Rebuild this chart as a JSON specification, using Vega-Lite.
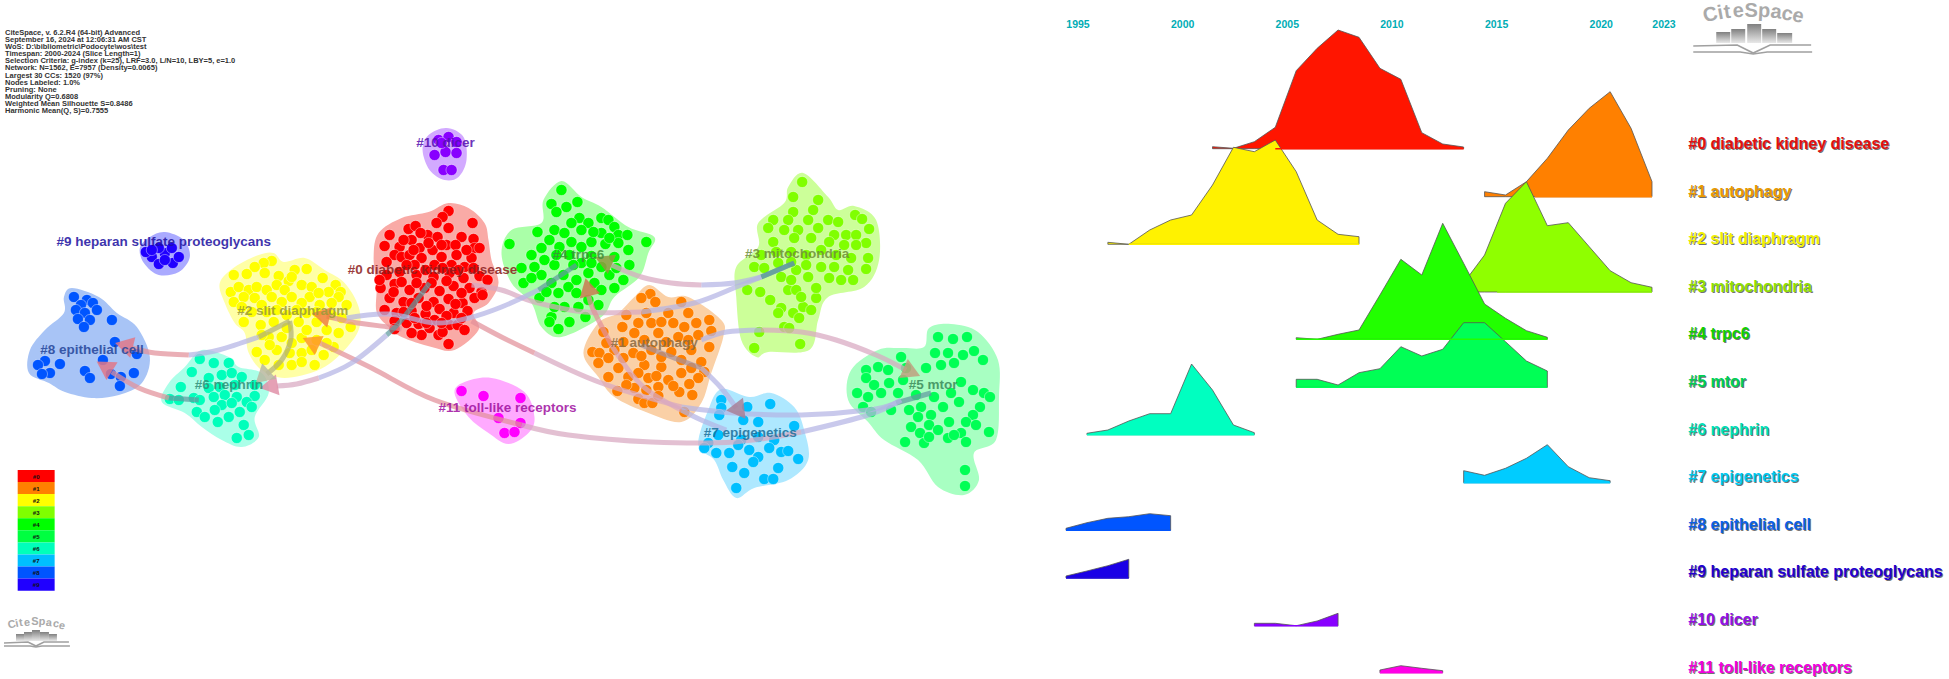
{
"$schema":"https://vega.github.io/schema/vega-lite/v6.json",
"width":1949,"height":679,"padding":0,"autosize":{"type":"fit","contains":"padding"},
"background":"white","view":{"stroke":null},
"config":{"font":"Liberation Sans","axis":{"grid":false}},
"resolve":{"scale":{"x":"independent","color":"independent","fill":"independent","stroke":"independent","opacity":"independent"}},
"datasets":{
"hull":[
{"c":"0","x":447,"y":203},{"c":"0","x":467,"y":208},{"c":"0","x":483,"y":223},{"c":"0","x":487,"y":240},{"c":"0","x":490,"y":260},{"c":"0","x":497,"y":283},{"c":"0","x":487,"y":303},{"c":"0","x":472,"y":313},{"c":"0","x":477,"y":330},{"c":"0","x":453,"y":350},{"c":"0","x":430,"y":347},{"c":"0","x":400,"y":337},{"c":"0","x":387,"y":327},{"c":"0","x":375,"y":312},{"c":"0","x":375,"y":287},{"c":"0","x":372,"y":257},{"c":"0","x":377,"y":233},{"c":"0","x":400,"y":218},{"c":"0","x":427,"y":212},
{"c":"1","x":648,"y":285},{"c":"1","x":667,"y":297},{"c":"1","x":687,"y":297},{"c":"1","x":720,"y":320},{"c":"1","x":722,"y":337},{"c":"1","x":710,"y":373},{"c":"1","x":700,"y":403},{"c":"1","x":680,"y":422},{"c":"1","x":647,"y":413},{"c":"1","x":613,"y":397},{"c":"1","x":597,"y":377},{"c":"1","x":582,"y":353},{"c":"1","x":597,"y":323},{"c":"1","x":617,"y":313},{"c":"1","x":633,"y":297},
{"c":"2","x":272,"y":253},{"c":"2","x":282,"y":262},{"c":"2","x":303,"y":258},{"c":"2","x":323,"y":270},{"c":"2","x":343,"y":283},{"c":"2","x":357,"y":307},{"c":"2","x":357,"y":330},{"c":"2","x":340,"y":353},{"c":"2","x":317,"y":370},{"c":"2","x":283,"y":378},{"c":"2","x":260,"y":370},{"c":"2","x":247,"y":353},{"c":"2","x":243,"y":333},{"c":"2","x":233,"y":323},{"c":"2","x":223,"y":303},{"c":"2","x":218,"y":283},{"c":"2","x":233,"y":267},{"c":"2","x":257,"y":255},
{"c":"3","x":802,"y":173},{"c":"3","x":827,"y":197},{"c":"3","x":837,"y":210},{"c":"3","x":853,"y":206},{"c":"3","x":875,"y":220},{"c":"3","x":878,"y":260},{"c":"3","x":863,"y":287},{"c":"3","x":827,"y":297},{"c":"3","x":817,"y":320},{"c":"3","x":808,"y":350},{"c":"3","x":767,"y":352},{"c":"3","x":755,"y":357},{"c":"3","x":740,"y":340},{"c":"3","x":735,"y":297},{"c":"3","x":735,"y":267},{"c":"3","x":757,"y":247},{"c":"3","x":757,"y":223},{"c":"3","x":783,"y":203},{"c":"3","x":787,"y":187},
{"c":"4","x":560,"y":181},{"c":"4","x":580,"y":197},{"c":"4","x":600,"y":207},{"c":"4","x":627,"y":227},{"c":"4","x":653,"y":237},{"c":"4","x":647,"y":253},{"c":"4","x":638,"y":277},{"c":"4","x":613,"y":297},{"c":"4","x":600,"y":317},{"c":"4","x":560,"y":337},{"c":"4","x":540,"y":327},{"c":"4","x":530,"y":303},{"c":"4","x":510,"y":283},{"c":"4","x":500,"y":253},{"c":"4","x":510,"y":230},{"c":"4","x":540,"y":223},{"c":"4","x":542,"y":200},
{"c":"5","x":950,"y":324},{"c":"5","x":977,"y":332},{"c":"5","x":997,"y":360},{"c":"5","x":998,"y":397},{"c":"5","x":995,"y":440},{"c":"5","x":973,"y":453},{"c":"5","x":978,"y":480},{"c":"5","x":963,"y":495},{"c":"5","x":937,"y":487},{"c":"5","x":917,"y":460},{"c":"5","x":883,"y":440},{"c":"5","x":867,"y":422},{"c":"5","x":847,"y":400},{"c":"5","x":850,"y":370},{"c":"5","x":877,"y":350},{"c":"5","x":900,"y":348},{"c":"5","x":923,"y":347},{"c":"5","x":928,"y":328},
{"c":"6","x":200,"y":350},{"c":"6","x":227,"y":357},{"c":"6","x":237,"y":367},{"c":"6","x":260,"y":373},{"c":"6","x":267,"y":393},{"c":"6","x":253,"y":417},{"c":"6","x":257,"y":437},{"c":"6","x":240,"y":447},{"c":"6","x":220,"y":440},{"c":"6","x":200,"y":427},{"c":"6","x":183,"y":413},{"c":"6","x":160,"y":402},{"c":"6","x":167,"y":383},{"c":"6","x":183,"y":367},
{"c":"7","x":720,"y":389},{"c":"7","x":748,"y":397},{"c":"7","x":770,"y":393},{"c":"7","x":793,"y":407},{"c":"7","x":803,"y":430},{"c":"7","x":807,"y":460},{"c":"7","x":787,"y":480},{"c":"7","x":753,"y":488},{"c":"7","x":735,"y":498},{"c":"7","x":722,"y":480},{"c":"7","x":713,"y":460},{"c":"7","x":697,"y":445},{"c":"7","x":707,"y":410},
{"c":"8","x":70,"y":288},{"c":"8","x":97,"y":297},{"c":"8","x":115,"y":313},{"c":"8","x":135,"y":327},{"c":"8","x":148,"y":357},{"c":"8","x":140,"y":383},{"c":"8","x":117,"y":395},{"c":"8","x":90,"y":398},{"c":"8","x":63,"y":392},{"c":"8","x":47,"y":383},{"c":"8","x":27,"y":373},{"c":"8","x":28,"y":350},{"c":"8","x":43,"y":330},{"c":"8","x":62,"y":313},{"c":"8","x":62,"y":297},
{"c":"9","x":163,"y":232},{"c":"9","x":182,"y":240},{"c":"9","x":188,"y":257},{"c":"9","x":177,"y":272},{"c":"9","x":157,"y":275},{"c":"9","x":142,"y":263},{"c":"9","x":138,"y":248},{"c":"9","x":148,"y":237},
{"c":"10","x":445,"y":128},{"c":"10","x":462,"y":137},{"c":"10","x":465,"y":160},{"c":"10","x":457,"y":177},{"c":"10","x":443,"y":180},{"c":"10","x":428,"y":170},{"c":"10","x":421,"y":150},{"c":"10","x":427,"y":135},
{"c":"11","x":490,"y":378},{"c":"11","x":523,"y":392},{"c":"11","x":533,"y":417},{"c":"11","x":527,"y":433},{"c":"11","x":507,"y":444},{"c":"11","x":487,"y":433},{"c":"11","x":467,"y":417},{"c":"11","x":453,"y":393},{"c":"11","x":463,"y":382}
],
"nodes":[
{"c":"0","x":447,"y":211},{"c":"0","x":441,"y":217},{"c":"0","x":435,"y":223},{"c":"0","x":471,"y":223},{"c":"0","x":407,"y":229},{"c":"0","x":414,"y":226},{"c":"0","x":447,"y":228},{"c":"0","x":388,"y":235},{"c":"0","x":426,"y":235},{"c":"0","x":419,"y":233},{"c":"0","x":460,"y":237},{"c":"0","x":436,"y":237},{"c":"0","x":472,"y":239},{"c":"0","x":383,"y":246},{"c":"0","x":398,"y":247},{"c":"0","x":410,"y":240},{"c":"0","x":418,"y":248},{"c":"0","x":431,"y":250},{"c":"0","x":445,"y":245},{"c":"0","x":454,"y":245},{"c":"0","x":473,"y":248},{"c":"0","x":478,"y":248},{"c":"0","x":393,"y":255},{"c":"0","x":400,"y":257},{"c":"0","x":408,"y":255},{"c":"0","x":420,"y":258},{"c":"0","x":440,"y":257},{"c":"0","x":455,"y":255},{"c":"0","x":470,"y":258},{"c":"0","x":385,"y":262},{"c":"0","x":413,"y":265},{"c":"0","x":433,"y":265},{"c":"0","x":450,"y":265},{"c":"0","x":463,"y":267},{"c":"0","x":385,"y":275},{"c":"0","x":398,"y":272},{"c":"0","x":415,"y":275},{"c":"0","x":432,"y":277},{"c":"0","x":448,"y":273},{"c":"0","x":462,"y":278},{"c":"0","x":478,"y":276},{"c":"0","x":486,"y":280},{"c":"0","x":379,"y":288},{"c":"0","x":393,"y":284},{"c":"0","x":408,"y":290},{"c":"0","x":423,"y":288},{"c":"0","x":438,"y":291},{"c":"0","x":452,"y":286},{"c":"0","x":468,"y":288},{"c":"0","x":480,"y":292},{"c":"0","x":388,"y":298},{"c":"0","x":402,"y":302},{"c":"0","x":417,"y":298},{"c":"0","x":432,"y":302},{"c":"0","x":447,"y":299},{"c":"0","x":461,"y":303},{"c":"0","x":473,"y":298},{"c":"0","x":481,"y":295},{"c":"0","x":395,"y":313},{"c":"0","x":410,"y":311},{"c":"0","x":424,"y":314},{"c":"0","x":438,"y":309},{"c":"0","x":452,"y":313},{"c":"0","x":466,"y":311},{"c":"0","x":383,"y":310},{"c":"0","x":417,"y":324},{"c":"0","x":433,"y":320},{"c":"0","x":448,"y":325},{"c":"0","x":393,"y":321},{"c":"0","x":405,"y":323},{"c":"0","x":393,"y":329},{"c":"0","x":437,"y":335},{"c":"0","x":441,"y":332},{"c":"0","x":456,"y":325},{"c":"0","x":463,"y":330},{"c":"0","x":420,"y":335},{"c":"0","x":447,"y":344},{"c":"0","x":410,"y":333},{"c":"0","x":428,"y":328},{"c":"0","x":405,"y":265},{"c":"0","x":424,"y":270},{"c":"0","x":441,"y":268},{"c":"0","x":457,"y":270},{"c":"0","x":472,"y":268},{"c":"0","x":392,"y":292},{"c":"0","x":400,"y":282},{"c":"0","x":415,"y":283},{"c":"0","x":430,"y":283},{"c":"0","x":445,"y":281},{"c":"0","x":460,"y":293},{"c":"0","x":410,"y":303},{"c":"0","x":425,"y":306},{"c":"0","x":454,"y":304},{"c":"0","x":402,"y":312},{"c":"0","x":445,"y":316},{"c":"0","x":460,"y":318},{"c":"0","x":413,"y":318},{"c":"0","x":425,"y":323},{"c":"0","x":440,"y":323},{"c":"0","x":402,"y":240},{"c":"0","x":427,"y":243},{"c":"0","x":465,"y":250},{"c":"0","x":412,"y":250},{"c":"0","x":440,"y":245},{"c":"0","x":378,"y":280},
{"c":"1","x":649,"y":294},{"c":"1","x":640,"y":298},{"c":"1","x":654,"y":302},{"c":"1","x":680,"y":302},{"c":"1","x":625,"y":315},{"c":"1","x":602,"y":332},{"c":"1","x":621,"y":327},{"c":"1","x":637,"y":323},{"c":"1","x":650,"y":323},{"c":"1","x":667,"y":313},{"c":"1","x":687,"y":313},{"c":"1","x":708,"y":320},{"c":"1","x":695,"y":323},{"c":"1","x":710,"y":331},{"c":"1","x":672,"y":323},{"c":"1","x":683,"y":327},{"c":"1","x":633,"y":333},{"c":"1","x":657,"y":333},{"c":"1","x":677,"y":337},{"c":"1","x":697,"y":335},{"c":"1","x":708,"y":347},{"c":"1","x":591,"y":352},{"c":"1","x":598,"y":353},{"c":"1","x":613,"y":350},{"c":"1","x":632,"y":353},{"c":"1","x":650,"y":350},{"c":"1","x":670,"y":352},{"c":"1","x":690,"y":350},{"c":"1","x":700,"y":362},{"c":"1","x":597,"y":363},{"c":"1","x":617,"y":368},{"c":"1","x":643,"y":365},{"c":"1","x":660,"y":367},{"c":"1","x":680,"y":373},{"c":"1","x":703,"y":372},{"c":"1","x":607,"y":377},{"c":"1","x":627,"y":377},{"c":"1","x":647,"y":378},{"c":"1","x":667,"y":380},{"c":"1","x":697,"y":378},{"c":"1","x":616,"y":391},{"c":"1","x":633,"y":388},{"c":"1","x":657,"y":387},{"c":"1","x":678,"y":392},{"c":"1","x":691,"y":395},{"c":"1","x":637,"y":399},{"c":"1","x":643,"y":403},{"c":"1","x":651,"y":403},{"c":"1","x":657,"y":396},{"c":"1","x":683,"y":412},{"c":"1","x":645,"y":313},{"c":"1","x":660,"y":322},{"c":"1","x":643,"y":340},{"c":"1","x":665,"y":342},{"c":"1","x":687,"y":340},{"c":"1","x":622,"y":342},{"c":"1","x":605,"y":343},{"c":"1","x":622,"y":358},{"c":"1","x":640,"y":356},{"c":"1","x":660,"y":357},{"c":"1","x":680,"y":360},{"c":"1","x":690,"y":368},{"c":"1","x":607,"y":358},{"c":"1","x":637,"y":373},{"c":"1","x":655,"y":376},{"c":"1","x":672,"y":386},{"c":"1","x":688,"y":384},{"c":"1","x":645,"y":390},{"c":"1","x":625,"y":385},
{"c":"2","x":270,"y":261},{"c":"2","x":262,"y":263},{"c":"2","x":253,"y":267},{"c":"2","x":232,"y":275},{"c":"2","x":245,"y":274},{"c":"2","x":263,"y":273},{"c":"2","x":293,"y":270},{"c":"2","x":305,"y":269},{"c":"2","x":277,"y":276},{"c":"2","x":287,"y":281},{"c":"2","x":321,"y":278},{"c":"2","x":334,"y":285},{"c":"2","x":229,"y":292},{"c":"2","x":237,"y":287},{"c":"2","x":247,"y":290},{"c":"2","x":255,"y":287},{"c":"2","x":265,"y":290},{"c":"2","x":275,"y":285},{"c":"2","x":283,"y":290},{"c":"2","x":300,"y":285},{"c":"2","x":310,"y":287},{"c":"2","x":339,"y":292},{"c":"2","x":327,"y":292},{"c":"2","x":232,"y":302},{"c":"2","x":242,"y":297},{"c":"2","x":253,"y":298},{"c":"2","x":270,"y":297},{"c":"2","x":290,"y":297},{"c":"2","x":308,"y":297},{"c":"2","x":317,"y":293},{"c":"2","x":337,"y":297},{"c":"2","x":345,"y":305},{"c":"2","x":330,"y":303},{"c":"2","x":300,"y":303},{"c":"2","x":280,"y":302},{"c":"2","x":260,"y":305},{"c":"2","x":285,"y":315},{"c":"2","x":305,"y":313},{"c":"2","x":265,"y":312},{"c":"2","x":250,"y":312},{"c":"2","x":330,"y":315},{"c":"2","x":242,"y":322},{"c":"2","x":259,"y":325},{"c":"2","x":272,"y":322},{"c":"2","x":297,"y":322},{"c":"2","x":315,"y":322},{"c":"2","x":337,"y":333},{"c":"2","x":349,"y":327},{"c":"2","x":325,"y":330},{"c":"2","x":255,"y":352},{"c":"2","x":267,"y":337},{"c":"2","x":280,"y":337},{"c":"2","x":300,"y":338},{"c":"2","x":315,"y":340},{"c":"2","x":332,"y":347},{"c":"2","x":263,"y":360},{"c":"2","x":275,"y":350},{"c":"2","x":288,"y":353},{"c":"2","x":300,"y":353},{"c":"2","x":322,"y":355},{"c":"2","x":313,"y":365},{"c":"2","x":290,"y":365},{"c":"2","x":277,"y":365},{"c":"2","x":300,"y":362},{"c":"2","x":318,"y":305},{"c":"2","x":275,"y":310},{"c":"2","x":295,"y":310},{"c":"2","x":315,"y":312},{"c":"2","x":340,"y":318},{"c":"2","x":285,"y":328},{"c":"2","x":305,"y":330},{"c":"2","x":268,"y":345},{"c":"2","x":290,"y":343},{"c":"2","x":310,"y":350},{"c":"2","x":325,"y":343},{"c":"2","x":260,"y":335},{"c":"2","x":240,"y":307},{"c":"2","x":290,"y":277},
{"c":"3","x":801,"y":182},{"c":"3","x":792,"y":197},{"c":"3","x":817,"y":200},{"c":"3","x":854,"y":215},{"c":"3","x":861,"y":219},{"c":"3","x":868,"y":229},{"c":"3","x":792,"y":212},{"c":"3","x":812,"y":210},{"c":"3","x":772,"y":220},{"c":"3","x":767,"y":228},{"c":"3","x":787,"y":220},{"c":"3","x":807,"y":220},{"c":"3","x":827,"y":220},{"c":"3","x":837,"y":222},{"c":"3","x":783,"y":230},{"c":"3","x":797,"y":230},{"c":"3","x":817,"y":228},{"c":"3","x":833,"y":235},{"c":"3","x":845,"y":235},{"c":"3","x":855,"y":235},{"c":"3","x":772,"y":242},{"c":"3","x":793,"y":238},{"c":"3","x":810,"y":238},{"c":"3","x":828,"y":242},{"c":"3","x":865,"y":243},{"c":"3","x":855,"y":245},{"c":"3","x":843,"y":245},{"c":"3","x":753,"y":267},{"c":"3","x":763,"y":268},{"c":"3","x":777,"y":263},{"c":"3","x":867,"y":258},{"c":"3","x":865,"y":269},{"c":"3","x":852,"y":280},{"c":"3","x":847,"y":270},{"c":"3","x":833,"y":267},{"c":"3","x":820,"y":267},{"c":"3","x":795,"y":270},{"c":"3","x":780,"y":277},{"c":"3","x":807,"y":277},{"c":"3","x":828,"y":278},{"c":"3","x":746,"y":290},{"c":"3","x":759,"y":292},{"c":"3","x":769,"y":300},{"c":"3","x":787,"y":290},{"c":"3","x":795,"y":290},{"c":"3","x":815,"y":298},{"c":"3","x":802,"y":307},{"c":"3","x":810,"y":310},{"c":"3","x":780,"y":308},{"c":"3","x":777,"y":313},{"c":"3","x":792,"y":313},{"c":"3","x":798,"y":318},{"c":"3","x":783,"y":327},{"c":"3","x":758,"y":332},{"c":"3","x":799,"y":344},{"c":"3","x":753,"y":348},{"c":"3","x":788,"y":328},{"c":"3","x":790,"y":252},{"c":"3","x":805,"y":255},{"c":"3","x":775,"y":252},{"c":"3","x":820,"y":250},{"c":"3","x":835,"y":255},{"c":"3","x":850,"y":258},{"c":"3","x":760,"y":255},{"c":"3","x":790,"y":262},{"c":"3","x":805,"y":265},{"c":"3","x":790,"y":280},{"c":"3","x":815,"y":288},{"c":"3","x":800,"y":297},{"c":"3","x":840,"y":280},
{"c":"4","x":560,"y":190},{"c":"4","x":550,"y":204},{"c":"4","x":565,"y":207},{"c":"4","x":576,"y":202},{"c":"4","x":555,"y":212},{"c":"4","x":508,"y":244},{"c":"4","x":536,"y":232},{"c":"4","x":645,"y":242},{"c":"4","x":600,"y":218},{"c":"4","x":607,"y":220},{"c":"4","x":578,"y":218},{"c":"4","x":570,"y":223},{"c":"4","x":587,"y":223},{"c":"4","x":613,"y":227},{"c":"4","x":553,"y":230},{"c":"4","x":580,"y":230},{"c":"4","x":563,"y":233},{"c":"4","x":600,"y":233},{"c":"4","x":617,"y":235},{"c":"4","x":626,"y":235},{"c":"4","x":548,"y":240},{"c":"4","x":570,"y":242},{"c":"4","x":590,"y":242},{"c":"4","x":604,"y":244},{"c":"4","x":617,"y":243},{"c":"4","x":530,"y":255},{"c":"4","x":540,"y":248},{"c":"4","x":558,"y":247},{"c":"4","x":580,"y":247},{"c":"4","x":627,"y":250},{"c":"4","x":543,"y":260},{"c":"4","x":613,"y":257},{"c":"4","x":628,"y":265},{"c":"4","x":520,"y":268},{"c":"4","x":533,"y":267},{"c":"4","x":553,"y":265},{"c":"4","x":580,"y":263},{"c":"4","x":600,"y":267},{"c":"4","x":540,"y":275},{"c":"4","x":562,"y":275},{"c":"4","x":587,"y":273},{"c":"4","x":608,"y":275},{"c":"4","x":622,"y":280},{"c":"4","x":522,"y":283},{"c":"4","x":550,"y":283},{"c":"4","x":567,"y":287},{"c":"4","x":593,"y":283},{"c":"4","x":613,"y":288},{"c":"4","x":538,"y":298},{"c":"4","x":557,"y":293},{"c":"4","x":575,"y":293},{"c":"4","x":597,"y":305},{"c":"4","x":550,"y":317},{"c":"4","x":568,"y":322},{"c":"4","x":584,"y":317},{"c":"4","x":557,"y":329},{"c":"4","x":548,"y":322},{"c":"4","x":563,"y":307},{"c":"4","x":577,"y":307},{"c":"4","x":587,"y":300},{"c":"4","x":553,"y":307},{"c":"4","x":568,"y":255},{"c":"4","x":590,"y":256},{"c":"4","x":555,"y":255},{"c":"4","x":572,"y":265},{"c":"4","x":590,"y":263},{"c":"4","x":615,"y":268},{"c":"4","x":530,"y":278},{"c":"4","x":575,"y":280},{"c":"4","x":600,"y":290},{"c":"4","x":545,"y":292},{"c":"4","x":592,"y":232},{"c":"4","x":608,"y":238},
{"c":"5","x":937,"y":337},{"c":"5","x":952,"y":339},{"c":"5","x":966,"y":337},{"c":"5","x":934,"y":353},{"c":"5","x":947,"y":353},{"c":"5","x":962,"y":355},{"c":"5","x":973,"y":351},{"c":"5","x":982,"y":360},{"c":"5","x":900,"y":357},{"c":"5","x":877,"y":367},{"c":"5","x":865,"y":370},{"c":"5","x":887,"y":370},{"c":"5","x":905,"y":368},{"c":"5","x":925,"y":368},{"c":"5","x":940,"y":365},{"c":"5","x":953,"y":363},{"c":"5","x":865,"y":378},{"c":"5","x":873,"y":385},{"c":"5","x":888,"y":383},{"c":"5","x":902,"y":380},{"c":"5","x":960,"y":382},{"c":"5","x":856,"y":393},{"c":"5","x":867,"y":397},{"c":"5","x":880,"y":393},{"c":"5","x":897,"y":393},{"c":"5","x":915,"y":395},{"c":"5","x":933,"y":397},{"c":"5","x":950,"y":393},{"c":"5","x":972,"y":390},{"c":"5","x":983,"y":393},{"c":"5","x":989,"y":397},{"c":"5","x":862,"y":407},{"c":"5","x":870,"y":412},{"c":"5","x":890,"y":410},{"c":"5","x":908,"y":410},{"c":"5","x":920,"y":407},{"c":"5","x":942,"y":407},{"c":"5","x":958,"y":402},{"c":"5","x":979,"y":407},{"c":"5","x":972,"y":415},{"c":"5","x":930,"y":415},{"c":"5","x":917,"y":417},{"c":"5","x":948,"y":422},{"c":"5","x":965,"y":422},{"c":"5","x":975,"y":425},{"c":"5","x":910,"y":427},{"c":"5","x":928,"y":425},{"c":"5","x":937,"y":430},{"c":"5","x":919,"y":433},{"c":"5","x":988,"y":432},{"c":"5","x":960,"y":433},{"c":"5","x":947,"y":438},{"c":"5","x":904,"y":442},{"c":"5","x":923,"y":443},{"c":"5","x":965,"y":442},{"c":"5","x":953,"y":435},{"c":"5","x":928,"y":437},{"c":"5","x":964,"y":470},{"c":"5","x":964,"y":486},
{"c":"6","x":198,"y":359},{"c":"6","x":212,"y":363},{"c":"6","x":227,"y":363},{"c":"6","x":190,"y":372},{"c":"6","x":179,"y":387},{"c":"6","x":168,"y":399},{"c":"6","x":177,"y":400},{"c":"6","x":192,"y":398},{"c":"6","x":198,"y":400},{"c":"6","x":207,"y":378},{"c":"6","x":220,"y":375},{"c":"6","x":230,"y":373},{"c":"6","x":240,"y":377},{"c":"6","x":207,"y":388},{"c":"6","x":218,"y":387},{"c":"6","x":233,"y":385},{"c":"6","x":253,"y":385},{"c":"6","x":212,"y":397},{"c":"6","x":223,"y":395},{"c":"6","x":235,"y":397},{"c":"6","x":253,"y":396},{"c":"6","x":245,"y":402},{"c":"6","x":220,"y":405},{"c":"6","x":195,"y":412},{"c":"6","x":203,"y":417},{"c":"6","x":213,"y":410},{"c":"6","x":216,"y":422},{"c":"6","x":227,"y":417},{"c":"6","x":238,"y":412},{"c":"6","x":242,"y":425},{"c":"6","x":235,"y":438},{"c":"6","x":247,"y":435},{"c":"6","x":250,"y":407},{"c":"6","x":230,"y":403},
{"c":"7","x":720,"y":400},{"c":"7","x":746,"y":407},{"c":"7","x":769,"y":404},{"c":"7","x":720,"y":408},{"c":"7","x":718,"y":415},{"c":"7","x":742,"y":420},{"c":"7","x":757,"y":422},{"c":"7","x":793,"y":426},{"c":"7","x":707,"y":443},{"c":"7","x":717,"y":435},{"c":"7","x":740,"y":440},{"c":"7","x":757,"y":437},{"c":"7","x":773,"y":440},{"c":"7","x":703,"y":448},{"c":"7","x":715,"y":453},{"c":"7","x":728,"y":453},{"c":"7","x":737,"y":445},{"c":"7","x":748,"y":450},{"c":"7","x":757,"y":457},{"c":"7","x":768,"y":448},{"c":"7","x":780,"y":452},{"c":"7","x":787,"y":451},{"c":"7","x":797,"y":459},{"c":"7","x":752,"y":462},{"c":"7","x":731,"y":467},{"c":"7","x":743,"y":473},{"c":"7","x":777,"y":468},{"c":"7","x":763,"y":479},{"c":"7","x":772,"y":479},{"c":"7","x":735,"y":488},
{"c":"8","x":72,"y":297},{"c":"8","x":85,"y":300},{"c":"8","x":91,"y":303},{"c":"8","x":79,"y":305},{"c":"8","x":95,"y":310},{"c":"8","x":74,"y":310},{"c":"8","x":83,"y":313},{"c":"8","x":88,"y":320},{"c":"8","x":76,"y":319},{"c":"8","x":82,"y":327},{"c":"8","x":110,"y":320},{"c":"8","x":113,"y":342},{"c":"8","x":135,"y":354},{"c":"8","x":101,"y":360},{"c":"8","x":43,"y":361},{"c":"8","x":36,"y":365},{"c":"8","x":58,"y":364},{"c":"8","x":48,"y":373},{"c":"8","x":40,"y":374},{"c":"8","x":83,"y":371},{"c":"8","x":88,"y":378},{"c":"8","x":109,"y":374},{"c":"8","x":119,"y":377},{"c":"8","x":132,"y":373},{"c":"8","x":118,"y":386},
{"c":"9","x":150,"y":257},{"c":"9","x":144,"y":252},{"c":"9","x":157,"y":264},{"c":"9","x":171,"y":263},{"c":"9","x":177,"y":257},{"c":"9","x":163,"y":253},{"c":"9","x":170,"y":248},{"c":"9","x":157,"y":248},{"c":"9","x":150,"y":250},{"c":"9","x":163,"y":260},
{"c":"10","x":433,"y":155},{"c":"10","x":444,"y":152},{"c":"10","x":455,"y":153},{"c":"10","x":442,"y":170},{"c":"10","x":450,"y":170},{"c":"10","x":437,"y":140},{"c":"10","x":447,"y":137},{"c":"10","x":455,"y":142},{"c":"10","x":440,"y":143},
{"c":"11","x":460,"y":391},{"c":"11","x":482,"y":396},{"c":"11","x":519,"y":398},{"c":"11","x":497,"y":418},{"c":"11","x":519,"y":423},{"c":"11","x":503,"y":433},{"c":"11","x":513,"y":432}
],
"links":[
{"link":"L1","part":"a","x":793,"y":263},{"link":"L1","part":"a","x":760,"y":277},{"link":"L1","part":"b","x":760,"y":277},{"link":"L1","part":"b","x":735,"y":287},{"link":"L1","part":"b","x":693,"y":303},{"link":"L1","part":"b","x":640,"y":312},{"link":"L1","part":"c","x":640,"y":312},{"link":"L1","part":"c","x":583,"y":312},{"link":"L1","part":"c","x":533,"y":302},{"link":"L1","part":"c","x":500,"y":290},{"link":"L1","part":"c","x":470,"y":285},
{"link":"L2","part":"b","x":700,"y":340},{"link":"L2","part":"b","x":725,"y":332},{"link":"L2","part":"b","x":760,"y":330},{"link":"L2","part":"c","x":760,"y":330},{"link":"L2","part":"c","x":800,"y":332},{"link":"L2","part":"c","x":835,"y":340},{"link":"L2","part":"c","x":875,"y":355},{"link":"L2","part":"c","x":905,"y":370},
{"link":"L3","part":"a","x":793,"y":263},{"link":"L3","part":"a","x":760,"y":277},{"link":"L3","part":"b","x":760,"y":277},{"link":"L3","part":"b","x":733,"y":283},{"link":"L3","part":"b","x":700,"y":285},{"link":"L3","part":"c","x":700,"y":285},{"link":"L3","part":"c","x":670,"y":283},{"link":"L3","part":"c","x":640,"y":277},{"link":"L3","part":"c","x":610,"y":265},
{"link":"L4","part":"b","x":725,"y":430},{"link":"L4","part":"b","x":700,"y":420},{"link":"L4","part":"b","x":680,"y":410},{"link":"L4","part":"c","x":680,"y":410},{"link":"L4","part":"c","x":640,"y":385},{"link":"L4","part":"c","x":610,"y":345},{"link":"L4","part":"d","x":610,"y":345},{"link":"L4","part":"d","x":592,"y":310},{"link":"L4","part":"d","x":587,"y":295},
{"link":"L5","part":"e","x":640,"y":345},{"link":"L5","part":"e","x":665,"y":355},{"link":"L5","part":"e","x":700,"y":368},{"link":"L5","part":"b","x":700,"y":368},{"link":"L5","part":"b","x":720,"y":388},{"link":"L5","part":"b","x":735,"y":408},
{"link":"L6","part":"a","x":930,"y":393},{"link":"L6","part":"a","x":895,"y":403},{"link":"L6","part":"b","x":895,"y":403},{"link":"L6","part":"b","x":867,"y":410},{"link":"L6","part":"b","x":800,"y":415},{"link":"L6","part":"b","x":733,"y":413},{"link":"L6","part":"b","x":680,"y":407},{"link":"L6","part":"c","x":680,"y":407},{"link":"L6","part":"c","x":600,"y":383},{"link":"L6","part":"c","x":533,"y":353},{"link":"L6","part":"d","x":533,"y":353},{"link":"L6","part":"d","x":500,"y":337},{"link":"L6","part":"d","x":470,"y":321},
{"link":"L7","part":"b","x":900,"y":400},{"link":"L7","part":"b","x":867,"y":415},{"link":"L7","part":"b","x":800,"y":432},{"link":"L7","part":"c","x":800,"y":432},{"link":"L7","part":"c","x":733,"y":442},{"link":"L7","part":"c","x":650,"y":442},{"link":"L7","part":"c","x":567,"y":435},{"link":"L7","part":"c","x":520,"y":425},{"link":"L7","part":"d","x":520,"y":425},{"link":"L7","part":"d","x":433,"y":400},{"link":"L7","part":"d","x":370,"y":368},{"link":"L7","part":"d","x":318,"y":343},
{"link":"L8","part":"d","x":400,"y":329},{"link":"L8","part":"d","x":387,"y":327},{"link":"L8","part":"d","x":350,"y":322},{"link":"L8","part":"d","x":325,"y":316},
{"link":"L9","part":"a","x":428,"y":283},{"link":"L9","part":"a","x":400,"y":320},{"link":"L9","part":"a","x":385,"y":335},{"link":"L9","part":"b","x":385,"y":335},{"link":"L9","part":"b","x":350,"y":363},{"link":"L9","part":"b","x":317,"y":378},{"link":"L9","part":"c","x":317,"y":378},{"link":"L9","part":"c","x":295,"y":384},{"link":"L9","part":"c","x":275,"y":386},
{"link":"L10","part":"f","x":288,"y":321},{"link":"L10","part":"f","x":289,"y":340},{"link":"L10","part":"f","x":280,"y":360},{"link":"L10","part":"f","x":265,"y":374},
{"link":"L11","part":"f","x":288,"y":321},{"link":"L11","part":"f","x":257,"y":337},{"link":"L11","part":"b","x":257,"y":337},{"link":"L11","part":"b","x":217,"y":350},{"link":"L11","part":"b","x":187,"y":355},{"link":"L11","part":"d","x":187,"y":355},{"link":"L11","part":"d","x":153,"y":353},{"link":"L11","part":"d","x":130,"y":348},
{"link":"L12","part":"a","x":197,"y":400},{"link":"L12","part":"a","x":167,"y":398},{"link":"L12","part":"d","x":167,"y":398},{"link":"L12","part":"d","x":137,"y":388},{"link":"L12","part":"d","x":110,"y":372},
{"link":"L13","part":"a","x":575,"y":265},{"link":"L13","part":"a","x":537,"y":290},{"link":"L13","part":"b","x":537,"y":290},{"link":"L13","part":"b","x":500,"y":307},{"link":"L13","part":"b","x":467,"y":318},{"link":"L13","part":"b","x":433,"y":323},{"link":"L13","part":"b","x":387,"y":314},{"link":"L13","part":"b","x":345,"y":318}
],
"heads":[
{"k":"olive","x":605,"y":262,"a":293},{"k":"rust","x":587,"y":290,"a":346},{"k":"tan","x":908,"y":371,"a":114},{"k":"mauve","x":737,"y":409,"a":143},{"k":"orange","x":312,"y":343,"a":295},{"k":"orange2","x":322,"y":316,"a":283},{"k":"pink","x":270,"y":386,"a":260},{"k":"grey","x":263,"y":375,"a":228},{"k":"rose","x":125,"y":346,"a":284},{"k":"rose","x":105,"y":368,"a":302}
],
"netLabels":[
{"c":"0","t":"#0 diabetic kidney disease","x":431,"y":270},{"c":"1","t":"#1 autophagy","x":653,"y":343},{"c":"2","t":"#2 slit diaphragm","x":291,"y":311},{"c":"3","t":"#3 mitochondria","x":796,"y":254},{"c":"4","t":"#4 trpc6","x":577,"y":255},{"c":"5","t":"#5 mtor","x":932,"y":385},{"c":"6","t":"#6 nephrin","x":227,"y":385},{"c":"7","t":"#7 epigenetics","x":749,"y":433},{"c":"8","t":"#8 epithelial cell","x":90,"y":350},{"c":"9","t":"#9 heparan sulfate proteoglycans","x":162,"y":242},{"c":"10","t":"#10 dicer","x":444,"y":143},{"c":"11","t":"#11 toll-like receptors","x":506,"y":408}
],
"ribbons":[
{"c":"0","year":2002,"top":146.7,"base":148.7},{"c":"0","year":2003,"top":148.3,"base":148.7},{"c":"0","year":2004,"top":141.7,"base":148.7},{"c":"0","year":2005,"top":127.3,"base":148.7},{"c":"0","year":2006,"top":70.7,"base":148.7},{"c":"0","year":2007,"top":48.3,"base":148.7},{"c":"0","year":2008,"top":30,"base":148.7},{"c":"0","year":2009,"top":37.3,"base":148.7},{"c":"0","year":2010,"top":68.3,"base":148.7},{"c":"0","year":2011,"top":79.3,"base":148.7},{"c":"0","year":2012,"top":132.7,"base":148.7},{"c":"0","year":2013,"top":144,"base":148.7},{"c":"0","year":2014,"top":147,"base":148.7},
{"c":"1","year":2015,"top":191.7,"base":196.7},{"c":"1","year":2016,"top":195,"base":196.7},{"c":"1","year":2017,"top":181.7,"base":196.7},{"c":"1","year":2018,"top":158.3,"base":196.7},{"c":"1","year":2019,"top":130,"base":196.7},{"c":"1","year":2020,"top":108.3,"base":196.7},{"c":"1","year":2021,"top":91.7,"base":196.7},{"c":"1","year":2022,"top":128.3,"base":196.7},{"c":"1","year":2023,"top":181.7,"base":196.7},
{"c":"2","year":1997,"top":242.3,"base":244.3},{"c":"2","year":1998,"top":244.3,"base":244.3},{"c":"2","year":1999,"top":230,"base":244.3},{"c":"2","year":2000,"top":220,"base":244.3},{"c":"2","year":2001,"top":215,"base":244.3},{"c":"2","year":2002,"top":185,"base":244.3},{"c":"2","year":2003,"top":147.3,"base":244.3},{"c":"2","year":2004,"top":151.7,"base":244.3},{"c":"2","year":2005,"top":140,"base":244.3},{"c":"2","year":2006,"top":171.7,"base":244.3},{"c":"2","year":2007,"top":220,"base":244.3},{"c":"2","year":2008,"top":234.3,"base":244.3},{"c":"2","year":2009,"top":236.7,"base":244.3},
{"c":"3","year":2014,"top":283,"base":292},{"c":"3","year":2015,"top":255,"base":292},{"c":"3","year":2016,"top":203.3,"base":292},{"c":"3","year":2017,"top":181.7,"base":292},{"c":"3","year":2018,"top":225.7,"base":292},{"c":"3","year":2019,"top":222.7,"base":292},{"c":"3","year":2020,"top":246.7,"base":292},{"c":"3","year":2021,"top":270.7,"base":292},{"c":"3","year":2022,"top":282.7,"base":292},{"c":"3","year":2023,"top":287.3,"base":292},
{"c":"4","year":2006,"top":337.7,"base":339.3},{"c":"4","year":2007,"top":339.3,"base":339.3},{"c":"4","year":2008,"top":334.3,"base":339.3},{"c":"4","year":2009,"top":330,"base":339.3},{"c":"4","year":2010,"top":295,"base":339.3},{"c":"4","year":2011,"top":259.3,"base":339.3},{"c":"4","year":2012,"top":275,"base":339.3},{"c":"4","year":2013,"top":223.3,"base":339.3},{"c":"4","year":2014,"top":263.3,"base":339.3},{"c":"4","year":2015,"top":304,"base":339.3},{"c":"4","year":2016,"top":318.3,"base":339.3},{"c":"4","year":2017,"top":330.7,"base":339.3},{"c":"4","year":2018,"top":337.3,"base":339.3},
{"c":"5","year":2006,"top":379.3,"base":387.3},{"c":"5","year":2007,"top":379.3,"base":387.3},{"c":"5","year":2008,"top":385,"base":387.3},{"c":"5","year":2009,"top":372.7,"base":387.3},{"c":"5","year":2010,"top":368.7,"base":387.3},{"c":"5","year":2011,"top":346.7,"base":387.3},{"c":"5","year":2012,"top":356,"base":387.3},{"c":"5","year":2013,"top":349.3,"base":387.3},{"c":"5","year":2014,"top":322.7,"base":387.3},{"c":"5","year":2015,"top":322.7,"base":387.3},{"c":"5","year":2016,"top":341.7,"base":387.3},{"c":"5","year":2017,"top":361,"base":387.3},{"c":"5","year":2018,"top":371,"base":387.3},
{"c":"6","year":1996,"top":433.3,"base":434.7},{"c":"6","year":1997,"top":430,"base":434.7},{"c":"6","year":1998,"top":421,"base":434.7},{"c":"6","year":1999,"top":413.7,"base":434.7},{"c":"6","year":2000,"top":413.7,"base":434.7},{"c":"6","year":2001,"top":364,"base":434.7},{"c":"6","year":2002,"top":390,"base":434.7},{"c":"6","year":2003,"top":425,"base":434.7},{"c":"6","year":2004,"top":432.7,"base":434.7},
{"c":"7","year":2014,"top":470.7,"base":482.7},{"c":"7","year":2015,"top":475.3,"base":482.7},{"c":"7","year":2016,"top":468.3,"base":482.7},{"c":"7","year":2017,"top":458.3,"base":482.7},{"c":"7","year":2018,"top":444.7,"base":482.7},{"c":"7","year":2019,"top":466.7,"base":482.7},{"c":"7","year":2020,"top":477.7,"base":482.7},{"c":"7","year":2021,"top":480.7,"base":482.7},
{"c":"8","year":1995,"top":528.3,"base":530.3},{"c":"8","year":1996,"top":522.7,"base":530.3},{"c":"8","year":1997,"top":518.3,"base":530.3},{"c":"8","year":1998,"top":516.7,"base":530.3},{"c":"8","year":1999,"top":513.7,"base":530.3},{"c":"8","year":2000,"top":515.7,"base":530.3},
{"c":"9","year":1995,"top":576,"base":578},{"c":"9","year":1996,"top":571,"base":578},{"c":"9","year":1997,"top":565.7,"base":578},{"c":"9","year":1998,"top":559.3,"base":578},
{"c":"10","year":2004,"top":623.3,"base":625.7},{"c":"10","year":2005,"top":623.3,"base":625.7},{"c":"10","year":2006,"top":625.7,"base":625.7},{"c":"10","year":2007,"top":621,"base":625.7},{"c":"10","year":2008,"top":613.3,"base":625.7},
{"c":"11","year":2010,"top":670,"base":672.7},{"c":"11","year":2011,"top":665.7,"base":672.7},{"c":"11","year":2012,"top":668.3,"base":672.7},{"c":"11","year":2013,"top":670.7,"base":672.7}
],
"baselines":[
{"c":"0","from":2005,"to":2014,"base":148.7},{"c":"1","from":2017.4,"to":2023,"base":196.7},{"c":"2","from":1998,"to":2009,"base":244.3},{"c":"3","from":2015.6,"to":2023,"base":292},{"c":"4","from":2006,"to":2018,"base":339.3},{"c":"5","from":2006,"to":2018,"base":387.3},{"c":"6","from":1996,"to":2004,"base":434.7},{"c":"7","from":2014,"to":2021,"base":482.7},{"c":"8","from":1995,"to":2000,"base":530.3},{"c":"9","from":1995,"to":1998,"base":578},{"c":"10","from":2004,"to":2008,"base":625.7},{"c":"11","from":2010,"to":2013,"base":672.7}
],
"years":[{"year":1995,"y":25},{"year":2000,"y":25},{"year":2005,"y":25},{"year":2010,"y":25},{"year":2015,"y":25},{"year":2020,"y":25},{"year":2023,"y":25}],
"sideLabels":[
{"c":"0","t":"#0 diabetic kidney disease","x":1688,"y":144},{"c":"1","t":"#1 autophagy","x":1688,"y":192},{"c":"2","t":"#2 slit diaphragm","x":1688,"y":239},{"c":"3","t":"#3 mitochondria","x":1688,"y":287},{"c":"4","t":"#4 trpc6","x":1688,"y":334},{"c":"5","t":"#5 mtor","x":1688,"y":382},{"c":"6","t":"#6 nephrin","x":1688,"y":430},{"c":"7","t":"#7 epigenetics","x":1688,"y":477},{"c":"8","t":"#8 epithelial cell","x":1688,"y":525},{"c":"9","t":"#9 heparan sulfate proteoglycans","x":1688,"y":572},{"c":"10","t":"#10 dicer","x":1688,"y":620},{"c":"11","t":"#11 toll-like receptors","x":1688,"y":668}
],
"info":[
{"t":"CiteSpace, v. 6.2.R4 (64-bit) Advanced","x":3,"y":32.7},{"t":"September 16, 2024 at 12:06:31 AM CST","x":3,"y":40},{"t":"WoS: D:\\bibliometric\\Podocyte\\wos\\test","x":3,"y":47},{"t":"Timespan: 2000-2024 (Slice Length=1)","x":3,"y":54},{"t":"Selection Criteria: g-index (k=25), LRF=3.0, L/N=10, LBY=5, e=1.0","x":3,"y":61.3},{"t":"Network: N=1562, E=7957 (Density=0.0065)","x":3,"y":68.3},{"t":"Largest 30 CCs: 1520 (97%)","x":3,"y":75.7},{"t":"Nodes Labeled: 1.0%","x":3,"y":82.7},{"t":"Pruning: None","x":3,"y":89.7},{"t":"Modularity Q=0.6808","x":3,"y":96.7},{"t":"Weighted Mean Silhouette S=0.8486","x":3,"y":104},{"t":"Harmonic Mean(Q, S)=0.7555","x":3,"y":111}
],
"key":[
{"c":"#0","x0":15.7,"x1":52.7,"y0":470,"y1":482.1,"cx":34.2,"cy":476.8},{"c":"#1","x0":15.7,"x1":52.7,"y0":482.1,"y1":494.1,"cx":34.2,"cy":488.8},{"c":"#2","x0":15.7,"x1":52.7,"y0":494.1,"y1":506.2,"cx":34.2,"cy":500.9},{"c":"#3","x0":15.7,"x1":52.7,"y0":506.2,"y1":518.3,"cx":34.2,"cy":513},{"c":"#4","x0":15.7,"x1":52.7,"y0":518.3,"y1":530.3,"cx":34.2,"cy":525},{"c":"#5","x0":15.7,"x1":52.7,"y0":530.3,"y1":542.4,"cx":34.2,"cy":537.1},{"c":"#6","x0":15.7,"x1":52.7,"y0":542.4,"y1":554.5,"cx":34.2,"cy":549.2},{"c":"#7","x0":15.7,"x1":52.7,"y0":554.5,"y1":566.5,"cx":34.2,"cy":561.2},{"c":"#8","x0":15.7,"x1":52.7,"y0":566.5,"y1":578.6,"cx":34.2,"cy":573.3},{"c":"#9","x0":15.7,"x1":52.7,"y0":578.6,"y1":590.7,"cx":34.2,"cy":585.4}
],
"logoBig":[{"t":"C","x":1710,"y":15,"a":-14},{"t":"i","x":1720,"y":13,"a":-11},{"t":"t","x":1727,"y":12,"a":-8},{"t":"e","x":1738,"y":11,"a":-5},{"t":"S","x":1751,"y":11,"a":0},{"t":"p","x":1764,"y":11,"a":3},{"t":"a","x":1776,"y":12,"a":6},{"t":"c","x":1787,"y":14,"a":10},{"t":"e","x":1798,"y":16,"a":14}],
"logoSmall":[{"t":"C","x":10,"y":625,"a":-14},{"t":"i","x":15,"y":624,"a":-11},{"t":"t","x":19,"y":623,"a":-8},{"t":"e","x":25,"y":623,"a":-5},{"t":"S","x":33,"y":622,"a":0},{"t":"p","x":40,"y":622,"a":3},{"t":"a","x":47,"y":623,"a":6},{"t":"c","x":54,"y":624,"a":10},{"t":"e","x":60,"y":626,"a":14}],
"logoBars":[
{"x0":1716,"x1":1730,"y0":32,"y1":43},{"x0":1731,"x1":1745,"y0":29,"y1":43},{"x0":1747,"x1":1761,"y0":24,"y1":43},{"x0":1762,"x1":1776,"y0":29,"y1":43},{"x0":1777,"x1":1792,"y0":33,"y1":43},
{"x0":14,"x1":22,"y0":634,"y1":641},{"x0":22,"x1":30,"y0":632,"y1":641},{"x0":30,"x1":38,"y0":630,"y1":641},{"x0":38,"x1":47,"y0":632,"y1":641},{"x0":47,"x1":55,"y0":634,"y1":641}
],
"logoBook":[
{"g":"a","x":1693,"y":46},{"g":"a","x":1737,"y":45},{"g":"a","x":1753,"y":53},{"g":"a","x":1770,"y":45},{"g":"a","x":1811,"y":45},
{"g":"b","x":1693,"y":52},{"g":"b","x":1740,"y":52},{"g":"b","x":1753,"y":54},{"g":"b","x":1767,"y":52},{"g":"b","x":1812,"y":52},
{"g":"c","x":2,"y":643},{"g":"c","x":26,"y":642},{"g":"c","x":34,"y":646},{"g":"c","x":42,"y":642},{"g":"c","x":67,"y":642},
{"g":"d","x":2,"y":646},{"g":"d","x":28,"y":646},{"g":"d","x":34,"y":647},{"g":"d","x":40,"y":646},{"g":"d","x":68,"y":646}
]
},
"layer":[
{"data":{"name":"hull"},"mark":{"type":"line","interpolate":"cardinal-closed","order":null,"strokeWidth":0},
 "encoding":{"x":{"field":"x","type":"quantitative","scale":{"domain":[0,1949],"nice":false,"zero":false},"axis":null},
 "y":{"field":"y","type":"quantitative","scale":{"domain":[679,0],"nice":false,"zero":false},"axis":null},
 "fill":{"field":"c","type":"nominal","legend":null,"scale":{"domain":["0","1","2","3","4","5","6","7","8","9","10","11"],"range":["#f9aaa6","#fad0a6","#ffffa6","#ccff99","#aaffa8","#a8ffc2","#aaffe8","#aee8ff","#a8c4f6","#aaaaff","#d2aaff","#ffaaff"]}},
 "detail":{"field":"c"}}},
{"data":{"name":"nodes"},"mark":{"type":"circle","size":125,"opacity":1,"stroke":"#ffffff","strokeWidth":0.6,"strokeOpacity":0.65},
 "encoding":{"x":{"field":"x","type":"quantitative","scale":{"domain":[0,1949],"nice":false,"zero":false},"axis":null},
 "y":{"field":"y","type":"quantitative","scale":{"domain":[679,0],"nice":false,"zero":false},"axis":null},
 "color":{"field":"c","type":"nominal","legend":null,"scale":{"domain":["0","1","2","3","4","5","6","7","8","9","10","11"],"range":["#ff0000","#ff8000","#ffff00","#80ff00","#00ff00","#00ff55","#00ffbb","#00bfff","#0055ff","#2000ff","#8800ff","#ff00ff"]}}}},
{"data":{"name":"links"},"mark":{"type":"line","interpolate":"cardinal","order":null,"strokeWidth":5,"strokeOpacity":0.72,"strokeCap":"butt"},
 "encoding":{"x":{"field":"x","type":"quantitative","scale":{"domain":[0,1949],"nice":false,"zero":false},"axis":null},
 "y":{"field":"y","type":"quantitative","scale":{"domain":[679,0],"nice":false,"zero":false},"axis":null},
 "detail":{"field":"link"},
 "color":{"field":"part","type":"nominal","legend":null,"scale":{"domain":["a","b","c","d","e","f"],"range":["#5f9aa0","#b4b4e4","#d8a8c0","#e2909a","#a89098","#b0b078"]}}}},
{"data":{"name":"heads"},"mark":{"type":"point","shape":"triangle","filled":true,"size":440,"opacity":0.85},
 "encoding":{"x":{"field":"x","type":"quantitative","scale":{"domain":[0,1949],"nice":false,"zero":false},"axis":null},
 "y":{"field":"y","type":"quantitative","scale":{"domain":[679,0],"nice":false,"zero":false},"axis":null},
 "angle":{"field":"a","type":"quantitative","scale":null},
 "color":{"field":"k","type":"nominal","legend":null,"scale":{"domain":["olive","rust","tan","mauve","orange","orange2","pink","grey","rose"],"range":["#8f9a40","#c97a50","#c0a080","#a88098","#ff9a28","#f08040","#e090a8","#b8b8a0","#e07888"]}}}},
{"data":{"name":"netLabels"},"mark":{"type":"text","font":"Liberation Sans","fontWeight":"bold","fontSize":13.5,"align":"center","baseline":"middle","opacity":0.85},
 "encoding":{"x":{"field":"x","type":"quantitative","scale":{"domain":[0,1949],"nice":false,"zero":false},"axis":null},
 "y":{"field":"y","type":"quantitative","scale":{"domain":[679,0],"nice":false,"zero":false},"axis":null},
 "text":{"field":"t"},
 "color":{"field":"c","type":"nominal","legend":null,"scale":{"domain":["0","1","2","3","4","5","6","7","8","9","10","11"],"range":["#8c1c1c","#8a6a40","#9a9a38","#6f8f3a","#3f8f3a","#3a8a5a","#2f8f78","#1a6f9a","#24449a","#1c10a0","#5510b0","#a010a0"]}}}},
{"data":{"name":"ribbons"},"mark":{"type":"area","line":false,"stroke":"#555555","strokeWidth":1,"strokeOpacity":0.8},
 "encoding":{"x":{"field":"year","type":"quantitative","scale":{"domain":[1995,2023],"range":[1064,1650],"nice":false,"zero":false},"axis":null},
 "y":{"field":"top","type":"quantitative","scale":{"domain":[679,0],"nice":false,"zero":false},"axis":null},
 "y2":{"field":"base"},
 "detail":{"field":"c"},
 "fill":{"field":"c","type":"nominal","legend":null,"scale":{"domain":["0","1","2","3","4","5","6","7","8","9","10","11"],"range":["#ff1500","#ff8000","#fff200","#8fff00","#22ff00","#00ff55","#00ffc0","#00ccff","#0055ff","#1a00e6","#8800ff","#ff00e6"]}}}},
{"data":{"name":"baselines"},"mark":{"type":"rule","strokeWidth":1.5},
 "encoding":{"x":{"field":"from","type":"quantitative","scale":{"domain":[1995,2023],"range":[1064,1650],"nice":false,"zero":false},"axis":null},
 "x2":{"field":"to"},
 "y":{"field":"base","type":"quantitative","scale":{"domain":[679,0],"nice":false,"zero":false},"axis":null},
 "color":{"field":"c","type":"nominal","legend":null,"scale":{"domain":["0","1","2","3","4","5","6","7","8","9","10","11"],"range":["#ff1500","#ff8000","#fff200","#8fff00","#22ff00","#00ff55","#00ffc0","#00ccff","#0055ff","#1a00e6","#8800ff","#ff00e6"]}}}},
{"data":{"name":"years"},"mark":{"type":"text","font":"Liberation Sans","fontWeight":"bold","fontSize":10.5,"color":"#00adb5","align":"center","baseline":"middle","dx":12},
 "encoding":{"x":{"field":"year","type":"quantitative","scale":{"domain":[1995,2023],"range":[1064,1650],"nice":false,"zero":false},"axis":null},
 "y":{"field":"y","type":"quantitative","scale":{"domain":[679,0],"nice":false,"zero":false},"axis":null},
 "text":{"field":"year","type":"nominal"}}},
{"data":{"name":"sideLabels"},"mark":{"type":"text","font":"Liberation Sans","fontWeight":"bold","fontSize":16,"color":"#444444","opacity":0.75,"align":"left","baseline":"middle","dx":1,"dy":1},
 "encoding":{"x":{"field":"x","type":"quantitative","scale":{"domain":[0,1949],"nice":false,"zero":false},"axis":null},
 "y":{"field":"y","type":"quantitative","scale":{"domain":[679,0],"nice":false,"zero":false},"axis":null},
 "text":{"field":"t"}}},
{"data":{"name":"sideLabels"},"mark":{"type":"text","font":"Liberation Sans","fontWeight":"bold","fontSize":16,"align":"left","baseline":"middle"},
 "encoding":{"x":{"field":"x","type":"quantitative","scale":{"domain":[0,1949],"nice":false,"zero":false},"axis":null},
 "y":{"field":"y","type":"quantitative","scale":{"domain":[679,0],"nice":false,"zero":false},"axis":null},
 "text":{"field":"t"},
 "color":{"field":"c","type":"nominal","legend":null,"scale":{"domain":["0","1","2","3","4","5","6","7","8","9","10","11"],"range":["#e01010","#e89a00","#f0f000","#90e000","#10d000","#00d055","#00e0b8","#00c8f0","#0a60e8","#2200d0","#9010e8","#f000e0"]}}}},
{"data":{"name":"info"},"mark":{"type":"text","font":"Liberation Sans","fontWeight":"bold","fontSize":7.5,"color":"#333333","align":"left","baseline":"middle"},
 "encoding":{"x":{"field":"x","type":"quantitative","scale":{"domain":[0,1949],"nice":false,"zero":false},"axis":null},
 "y":{"field":"y","type":"quantitative","scale":{"domain":[679,0],"nice":false,"zero":false},"axis":null},
 "text":{"field":"t"}}},
{"data":{"name":"key"},"mark":{"type":"rect"},
 "encoding":{"x":{"field":"x0","type":"quantitative","scale":{"domain":[0,1949],"nice":false,"zero":false},"axis":null},"x2":{"field":"x1"},
 "y":{"field":"y0","type":"quantitative","scale":{"domain":[679,0],"nice":false,"zero":false},"axis":null},"y2":{"field":"y1"},
 "color":{"field":"c","type":"nominal","legend":null,"scale":{"domain":["#0","#1","#2","#3","#4","#5","#6","#7","#8","#9"],"range":["#ff0000","#ff8000","#ffff00","#80ff00","#00ff00","#00ff40","#00ffbb","#00bfff","#0055ff","#2000ff"]}}}},
{"data":{"name":"key"},"mark":{"type":"text","font":"Liberation Sans","fontWeight":"bold","fontSize":6,"color":"#111111","align":"center","baseline":"middle"},
 "encoding":{"x":{"field":"cx","type":"quantitative","scale":{"domain":[0,1949],"nice":false,"zero":false},"axis":null},
 "y":{"field":"cy","type":"quantitative","scale":{"domain":[679,0],"nice":false,"zero":false},"axis":null},
 "text":{"field":"c"}}},
{"data":{"name":"logoBars"},"mark":{"type":"rect","color":{"gradient":"linear","x1":0,"y1":0,"x2":0,"y2":1,"stops":[{"offset":0,"color":"#808080"},{"offset":1,"color":"#e8e8e8"}]}},
 "encoding":{"x":{"field":"x0","type":"quantitative","scale":{"domain":[0,1949],"nice":false,"zero":false},"axis":null},"x2":{"field":"x1"},
 "y":{"field":"y0","type":"quantitative","scale":{"domain":[679,0],"nice":false,"zero":false},"axis":null},"y2":{"field":"y1"}}},
{"data":{"name":"logoBook"},"mark":{"type":"line","color":"#a0a0a0","strokeWidth":1.6,"order":null},
 "encoding":{"x":{"field":"x","type":"quantitative","scale":{"domain":[0,1949],"nice":false,"zero":false},"axis":null},
 "y":{"field":"y","type":"quantitative","scale":{"domain":[679,0],"nice":false,"zero":false},"axis":null},
 "detail":{"field":"g"}}},
{"data":{"name":"logoBig"},"mark":{"type":"text","font":"Liberation Sans","fontWeight":"bold","fontSize":20,"color":"#aaaaaa","align":"center","baseline":"middle"},
 "encoding":{"x":{"field":"x","type":"quantitative","scale":{"domain":[0,1949],"nice":false,"zero":false},"axis":null},
 "y":{"field":"y","type":"quantitative","scale":{"domain":[679,0],"nice":false,"zero":false},"axis":null},
 "angle":{"field":"a","type":"quantitative","scale":null},
 "text":{"field":"t"}}},
{"data":{"name":"logoSmall"},"mark":{"type":"text","font":"Liberation Sans","fontWeight":"bold","fontSize":11,"color":"#aaaaaa","align":"center","baseline":"middle"},
 "encoding":{"x":{"field":"x","type":"quantitative","scale":{"domain":[0,1949],"nice":false,"zero":false},"axis":null},
 "y":{"field":"y","type":"quantitative","scale":{"domain":[679,0],"nice":false,"zero":false},"axis":null},
 "angle":{"field":"a","type":"quantitative","scale":null},
 "text":{"field":"t"}}}
]
}
